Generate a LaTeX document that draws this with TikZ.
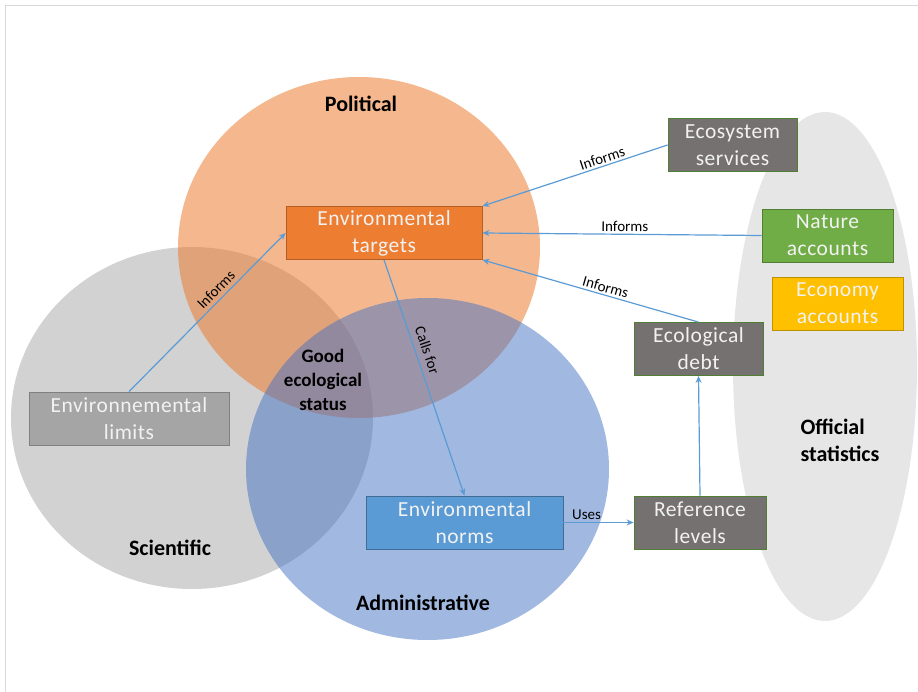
\documentclass[tikz,border=0pt]{standalone}
\usepackage{fontspec}
\setmainfont{Carlito}
\newfontfamily\boxfont[LetterSpace=2.5]{Carlito}
\usetikzlibrary{arrows.meta}
\definecolor{polfill}{HTML}{ED7D31}
\definecolor{scifill}{HTML}{A5A5A5}
\definecolor{admfill}{HTML}{4472C4}
\definecolor{statfill}{HTML}{E7E6E6}
\definecolor{linkcol}{HTML}{5B9BD5}
\definecolor{boxtext}{HTML}{F2F2F2}
\definecolor{darkgrey}{HTML}{767171}
\definecolor{greenline}{HTML}{507E32}
\definecolor{natfill}{HTML}{70AD47}
\definecolor{ecofill}{HTML}{FFC000}

\begin{document}
\begin{tikzpicture}[x=1pt,y=1pt,
    area/.style={font=\bfseries\fontsize{22}{27}\selectfont,align=center},
    box/.style={draw,line width=0.8pt,minimum width=#1,minimum height=53pt,
                inner sep=0pt,text=boxtext,align=center,
                font=\boxfont\fontsize{21.5}{27}\selectfont},
    link/.style={draw=linkcol,line width=1.2pt,-{Stealth[length=7pt,width=6pt]}},
    tag/.style={font=\fontsize{15}{17}\selectfont,sloped,above,inner sep=2pt}]
     \useasboundingbox (0,0) rectangle (918,-692);
     \draw[black!15] (5,-692) -- (5,-5) -- (918,-5);
     % the four domains
     \fill[statfill] (825,-366.5) ellipse [x radius=92,y radius=254.5];
     \fill[scifill,opacity=0.5] (192,-418) ellipse [x radius=181,y radius=171];
     \fill[polfill,opacity=0.55] (359,-247.5) ellipse [x radius=181,y radius=170.5];
     \fill[admfill,opacity=0.5] (427.5,-469) ellipse [x radius=181.5,y radius=171];
     \node[area] (pol) at (361,-104) {Political};
     \node[area] (sci) at (170,-548) {Scientific};
     \node[area] (adm) at (423,-603) {Administrative};
     \node[area,font=\bfseries\fontsize{19}{24}\selectfont] (good) at (323,-380) {Good\\ecological\\status};
     \node[area,align=left,anchor=west] (stat) at (797,-440) {Official\\statistics};
     % boxes
     \node[box=196pt,fill=polfill,draw=polfill!75!black] (targets) at (384,-233) {Environmental\\targets};
     \node[box=197pt,fill=linkcol,draw=linkcol!70!black] (norms) at (464.5,-522.5) {Environmental\\norms};
     \node[box=200pt,fill=scifill,draw=black!50] (limits) at (129,-418.5) {Environnemental\\limits};
     \node[box=129pt,fill=darkgrey,draw=greenline] (ecosys) at (732.5,-145) {Ecosystem\\services};
     \node[box=131pt,fill=natfill,draw=greenline] (nature) at (827.5,-235.5) {Nature\\accounts};
     \node[box=131pt,fill=ecofill,draw=ecofill!75!black] (economy) at (837.5,-303.5) {Economy\\accounts};
     \node[box=129pt,fill=darkgrey,draw=greenline] (debt) at (698.5,-349) {Ecological\\debt};
     \node[box=132pt,fill=darkgrey,draw=greenline] (reflev) at (700,-522.5) {Reference\\levels};
     % links
     \draw[link] (limits.north) -- node[tag,pos=0.6,inner sep=4pt] {Informs} (targets.west);
     \draw[link] (ecosys.west) -- node[tag,pos=0.34] {Informs} (targets.north east);
     \draw[link] (nature.west) -- node[tag,pos=0.49] {Informs} (targets.east);
     \draw[link] (debt.north) -- node[tag,pos=0.44] {Informs} (targets.south east);
     \draw[link] (targets.south) -- node[tag,pos=0.4,inner sep=6pt] {Calls for} (norms.north);
     \draw[link] (norms.east) -- node[tag,pos=0.33] {Uses} (reflev.west);
     \draw[link] (reflev.north) -- (debt.south);
    \end{tikzpicture}
\end{document}
